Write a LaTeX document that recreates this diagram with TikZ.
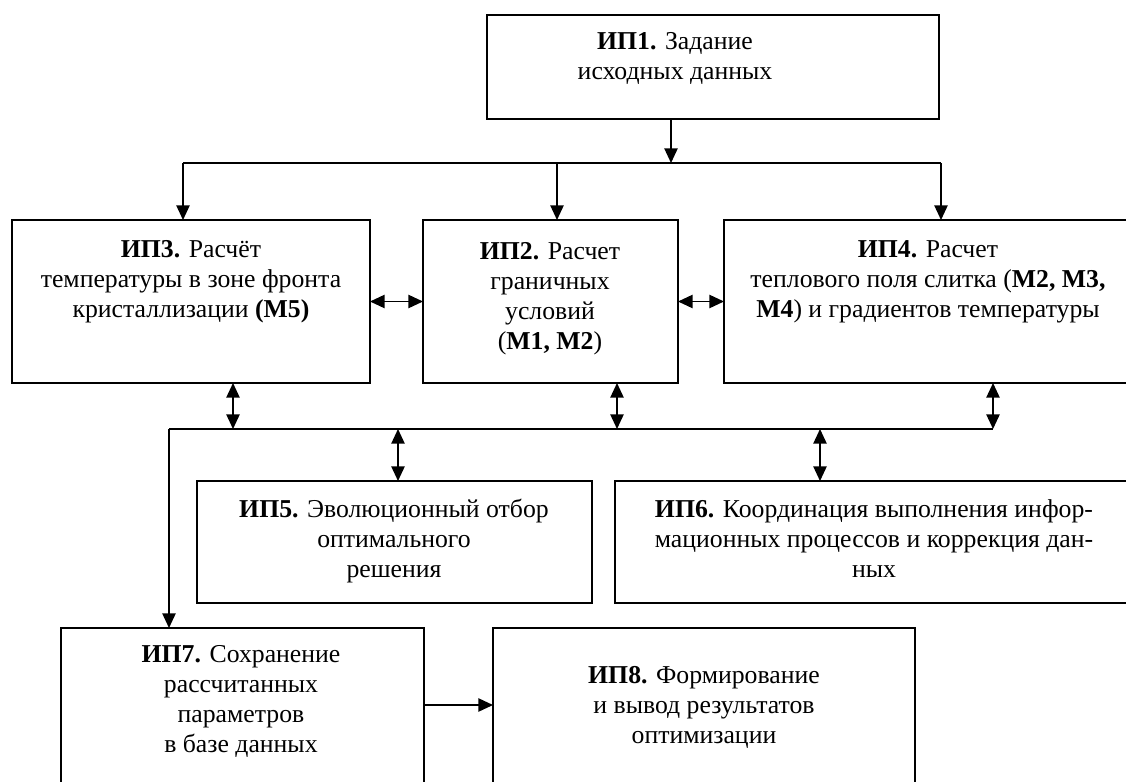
\documentclass[tikz,border=0pt]{standalone}
\usepackage{fontspec}
\setmainfont{Liberation Serif}
\usetikzlibrary{arrows.meta,positioning}

\begin{document}
\begin{tikzpicture}[x=0.75pt, y=-0.75pt,
      every node/.style={font=\fontsize{19.3}{22.5}\selectfont},
      st/.style={draw, line width=1.5pt, inner sep=0pt, outer sep=0pt,
                 anchor=north west},
      txt/.style={align=center, anchor=base, inner sep=0pt},
      ln/.style={line width=1.1pt},
      arr/.style={ln, -{Triangle[length=11pt, width=10pt]}},
      darr/.style={ln, {Triangle[length=11pt, width=10pt]}-{Triangle[length=11pt, width=10pt]}}]
    \useasboundingbox (0,0) rectangle (1126,781);
    \clip (0,0) rectangle (1126,781);
    % boxes
    \node[st, minimum width=339pt,    minimum height=78pt]    (ip1) at (487,15)  {};
    \node[st, minimum width=268.5pt,  minimum height=122.25pt] (ip3) at (12,220)  {};
    \node[st, minimum width=191.25pt, minimum height=122.25pt] (ip2) at (423,220) {};
    \node[st, minimum width=312pt,    minimum height=122.25pt] (ip4) at (724,220) {};
    \node[st, minimum width=296.25pt, minimum height=91.5pt]  (ip5) at (197,481) {};
    \node[st, minimum width=393.75pt, minimum height=91.5pt]  (ip6) at (615,481) {};
    \node[st, minimum width=272.25pt, minimum height=150pt]   (ip7) at (61,628)  {};
    \node[st, minimum width=316.5pt,  minimum height=150pt]   (ip8) at (493,628) {};
    % texts (placed by the baseline of their last line)
    \node[txt] (ip1t) at (675,80)  {\textbf{ИП1.} Задание\\ исходных данных};
    \node[txt] (ip3t) at (191,317) {\textbf{ИП3.} Расчёт\\ температуры в зоне фронта\\ кристаллизации \textbf{(М5)}};
    \node[txt] (ip2t) at (550,349) {\textbf{ИП2.} Расчет\\ граничных\\ условий\\ (\textbf{М1, М2})};
    \node[txt] (ip4t) at (928,317) {\textbf{ИП4.} Расчет\\ теплового поля слитка (\textbf{М2, М3,}\\ \textbf{М4}) и градиентов температуры};
    \node[txt] (ip5t) at (394,577) {\textbf{ИП5.} Эволюционный отбор\\ оптимального\\ решения};
    \node[txt] (ip6t) at (874,577) {\textbf{ИП6.} Координация выполнения инфор-\\ мационных процессов и коррекция дан-\\ ных};
    \node[txt] (ip7t) at (241,752) {\textbf{ИП7.} Сохранение\\ рассчитанных\\ параметров\\ в базе данных};
    \node[txt] (ip8t) at (704,743) {\textbf{ИП8.} Формирование\\ и вывод результатов\\ оптимизации};
    % upper bus
    \coordinate (s1) at (671,163);
    \coordinate (bl) at (183,163);
    \coordinate (b2) at (557,163);
    \coordinate (br) at (941,163);
    \draw[arr] (ip1.south -| s1) -- (s1);
    \draw[ln] (bl) -- (br);
    \foreach \c/\n in {bl/ip3, b2/ip2, br/ip4}
      \draw[arr] (\c) -- (\c |- \n.north);
    \draw[darr] (ip3.east) -- (ip2.west);
    \draw[darr] (ip2.east) -- (ip4.west);
    % lower bus
    \coordinate (ml) at (169,429);
    \coordinate (u3) at (233,429);
    \coordinate (u2) at (617,429);
    \coordinate (mr) at (993,429);
    \coordinate (v5) at (398,429);
    \coordinate (v6) at (820,429);
    \draw[ln] (ml) -- (mr);
    \foreach \c/\n in {u3/ip3, u2/ip2, mr/ip4}
      \draw[darr] (\c |- \n.south) -- (\c);
    \foreach \c/\n in {v5/ip5, v6/ip6}
      \draw[darr] (\c) -- (\c |- \n.north);
    \draw[arr] (ml) -- (ml |- ip7.north);
    \coordinate (h7) at (424,705);
    \draw[arr] (h7) -- (h7 -| ip8.west);
\end{tikzpicture}
\end{document}
